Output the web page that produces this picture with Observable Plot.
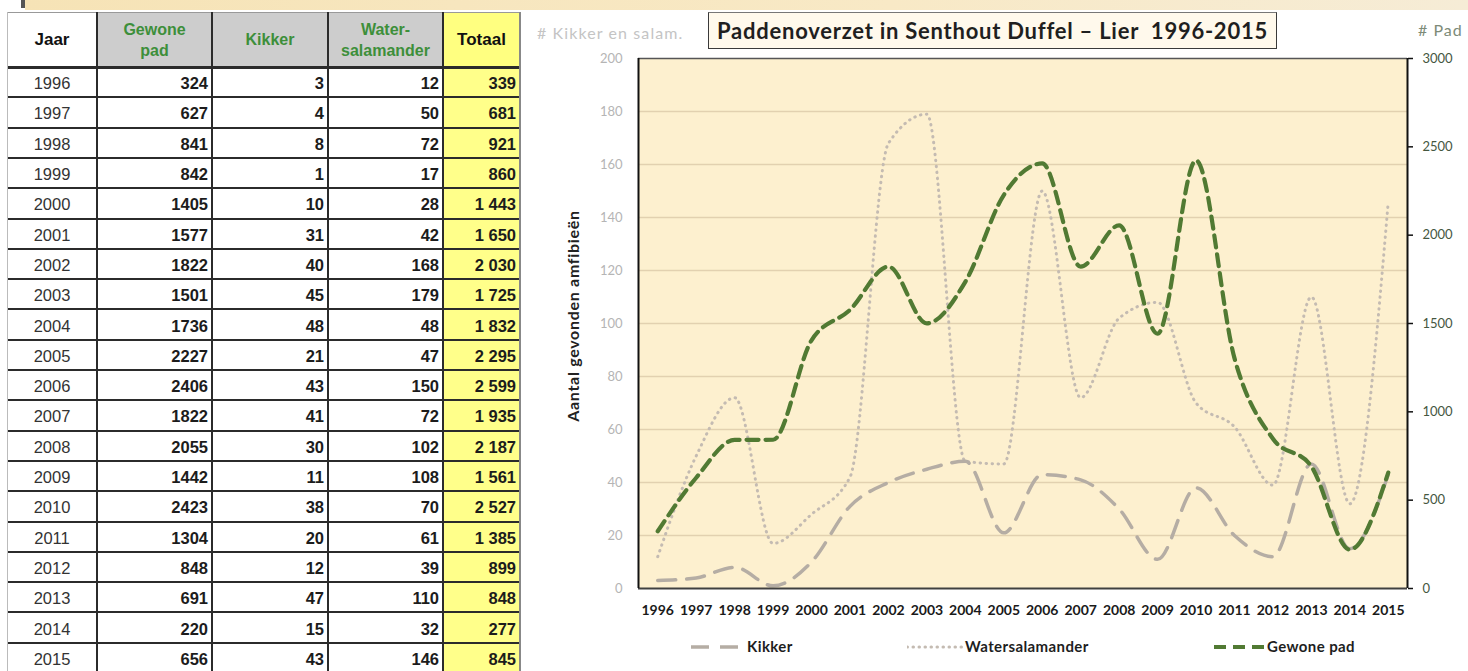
<!DOCTYPE html>
<html>
<head>
<meta charset="utf-8">
<script src="https://cdn.jsdelivr.net/npm/d3@7"></script>
<script src="https://cdn.jsdelivr.net/npm/@observablehq/plot@0.6"></script>
<style>
  html, body { margin: 0; padding: 0; background: #ffffff; }
  body { width: 1468px; height: 671px; position: relative; overflow: hidden; font-family: "Liberation Sans", Arial, sans-serif; }
  .abs { position: absolute; }
  .cell { position: absolute; box-sizing: border-box; display: flex; align-items: center; white-space: nowrap; }
  .hline { position: absolute; background: #2b2b2b; }
  .vline { position: absolute; background: #2b2b2b; }
  .lg { position: absolute; font-family: Lato, sans-serif; font-weight: bold; font-size: 15px; letter-spacing: 0.4px; color: #1e1e1e; }
</style>
</head>
<body>
<div class="abs" style="left:25px;top:0;width:1443px;height:10px;background:linear-gradient(to right,#f6e3b6,#f8e9c6 60%,#f6ecd6);"></div>
<div class="abs" style="left:21px;top:0;width:4px;height:8px;background:#555;"></div>
<div id="table"></div>
<div class="abs" style="left:537px;top:23px;font-family:Lato,sans-serif;font-size:16px;letter-spacing:1.1px;color:#c4c4c4;"># Kikker en salam.</div>
<div class="abs" style="left:1418px;top:20px;font-family:Lato,sans-serif;font-size:16px;letter-spacing:1px;color:#7d8b78;"># Pad</div>
<div class="abs" style="left:708px;top:12px;width:569px;height:37px;box-sizing:border-box;border:1.5px solid #3a3a3a;border-top-color:#777;background:#fff9ec;display:flex;align-items:center;justify-content:center;font-family:Lato,sans-serif;font-weight:bold;font-size:22px;letter-spacing:0.75px;color:#1f1f1f;white-space:pre;">Paddenoverzet in Senthout Duffel – Lier  1996-2015</div>
<div class="abs" style="left:572px;top:316px;transform:translate(-50%,-50%) rotate(-90deg);font-family:Lato,sans-serif;font-weight:bold;font-size:16px;letter-spacing:0.7px;color:#222;white-space:nowrap;">Aantal gevonden amfibieën</div>
<div id="chart" class="abs" style="left:530px;top:40px;"></div>
<div id="legend"></div>
<script>
const years = [1996,1997,1998,1999,2000,2001,2002,2003,2004,2005,2006,2007,2008,2009,2010,2011,2012,2013,2014,2015];
const gewonePad = [324,627,841,842,1405,1577,1822,1501,1736,2227,2406,1822,2055,1442,2423,1304,848,691,220,656];
const kikker = [3,4,8,1,10,31,40,45,48,21,43,41,30,11,38,20,12,47,15,43];
const watersalamander = [12,50,72,17,28,42,168,179,48,47,150,72,102,108,70,61,39,110,32,146];
const totaal = [339,681,921,860,1443,1650,2030,1725,1832,2295,2599,1935,2187,1561,2527,1385,899,848,277,845];
const leftTicks = [0,20,40,60,80,100,120,140,160,180,200];
const rightTicks = [0,500,1000,1500,2000,2500,3000];
const headers = ["Jaar","Gewone<br>pad","Kikker","Water-<br>salamander","Totaal"];
const seriesNames = ["Kikker","Watersalamander","Gewone pad"];

const rows = years.map((y, i) => ({year: y, pad: gewonePad[i], kikker: kikker[i], water: watersalamander[i], tot: totaal[i]}));

// ---------- table ----------
const fmtTot = n => n >= 1000 ? d3.format(",")(n).replace(",", " ") : String(n);
const cols = [{x:7,w:90},{x:97,w:115},{x:212,w:116},{x:328,w:115},{x:443,w:77}];
const tbl = document.getElementById("table");
const headTop = 12, headH = 55, rowH = 30.3;
const headBg = ["#ffffff","#cdcdcd","#cdcdcd","#cdcdcd","#ffff80"];
const headColor = ["#111","#3d8f3a","#3d8f3a","#3d8f3a","#111"];
let html = "";
headers.forEach((h, c) => {
  html += `<div class="cell" style="left:${cols[c].x}px;top:${headTop}px;width:${cols[c].w}px;height:${headH}px;background:${headBg[c]};justify-content:center;text-align:center;font-weight:bold;font-size:${c===0||c===4?17:16}px;line-height:21px;color:${headColor[c]};">${h}</div>`;
});
rows.forEach((r, i) => {
  const top = headTop + headH + i * rowH;
  const vals = [String(r.year), String(r.pad), String(r.kikker), String(r.water), fmtTot(r.tot)];
  vals.forEach((v, c) => {
    const isYear = c === 0;
    html += `<div class="cell" style="left:${cols[c].x}px;top:${top}px;width:${cols[c].w}px;height:${rowH}px;padding-top:3px;background:${c===4?"#ffff8a":"#ffffff"};justify-content:${isYear?"center":"flex-end"};padding-right:${isYear?0:4}px;font-size:16.5px;font-weight:${isYear?"normal":"bold"};color:${isYear?"#333":"#1c1c1c"};">${v}</div>`;
  });
});
html += `<div class="hline" style="left:7px;top:${headTop}px;width:513px;height:1px;background:#999;"></div>`;
for (let k = 0; k <= rows.length; k++) {
  const y = headTop + headH + k * rowH;
  html += `<div class="hline" style="left:7px;top:${y-1}px;width:513px;height:${k===0?2.5:2}px;"></div>`;
}
[97,212,328,443].forEach(x => {
  html += `<div class="vline" style="left:${x-1}px;top:${headTop}px;width:2px;height:${671-headTop}px;"></div>`;
});
html += `<div class="vline" style="left:7px;top:${headTop}px;width:1px;height:${671-headTop}px;background:#bbb;"></div>`;
html += `<div class="vline" style="left:519px;top:${headTop}px;width:1.5px;height:${671-headTop}px;background:#888;"></div>`;
tbl.innerHTML = html;

// ---------- chart ----------
const styles = {
  kikker: {stroke: "#b5ada4", strokeWidth: 3.5, strokeDasharray: "18,11"},
  water: {stroke: "#c4bbb2", strokeWidth: 3, strokeDasharray: "0.5,5.5", strokeLinecap: "round"},
  pad: {stroke: "#517a33", strokeWidth: 4.2, strokeDasharray: "12,7"}
};
const curve = "monotone-x";
const chart = Plot.plot({
  width: 938, height: 600,
  marginLeft: 108, marginRight: 61, marginTop: 18, marginBottom: 52,
  style: {fontFamily: "Lato, sans-serif", background: "transparent", overflow: "visible"},
  x: {domain: [1995.5, 2015.5]},
  y: {domain: [0, 200]},
  marks: [
    Plot.frame({fill: "#fdf0cf", stroke: null}),
    Plot.ruleY(leftTicks.filter(d => d > 0 && d < 200), {stroke: "#e2d1b0", strokeWidth: 1.3}),
    Plot.line(rows, {x: "year", y: "water", curve, ...styles.water}),
    Plot.line(rows, {x: "year", y: "kikker", curve, ...styles.kikker}),
    Plot.line(rows, {x: "year", y: d => d.pad / 15, curve, ...styles.pad}),
    Plot.ruleY([200], {stroke: "#555", strokeWidth: 1.5}),
    Plot.ruleY([0], {stroke: "#404040", strokeWidth: 2}),
    Plot.ruleX([1995.5], {stroke: "#111", strokeWidth: 2}),
    Plot.ruleX([2015.5], {stroke: "#111", strokeWidth: 2}),
    Plot.axisY({ticks: leftTicks, tickSize: 0, tickPadding: 16, fill: "#b5b5b5", fontSize: 13, label: null}),
    Plot.axisY({anchor: "right", ticks: rightTicks.map(d => d / 15), tickFormat: d => String(Math.round(d * 15)), tickSize: 5, tickPadding: 10, stroke: "#111", strokeWidth: 1.5, fill: "#45573f", fontSize: 13, label: null}),
    Plot.axisX({ticks: years, tickFormat: d => String(d), tickSize: 0, tickPadding: 17, fontSize: 14, fontWeight: "bold", fill: "#1a1a1a", label: null})
  ]
});
document.getElementById("chart").appendChild(chart);

// ---------- legend ----------
const legendItems = [
  {name: seriesNames[0], st: styles.kikker, x: 691, w: 54},
  {name: seriesNames[1], st: styles.water, x: 907, w: 56},
  {name: seriesNames[2], st: styles.pad, x: 1214, w: 51}
];
let lg = "";
legendItems.forEach(it => {
  lg += `<svg class="abs" style="left:${it.x}px;top:641px;" width="${it.w}" height="12"><line x1="0" y1="6" x2="${it.w}" y2="6" stroke="${it.st.stroke}" stroke-width="${it.st.strokeWidth}" stroke-dasharray="${it.st.strokeDasharray}" stroke-linecap="${it.st.strokeLinecap||"butt"}"/></svg>`;
  lg += `<div class="lg" style="left:${it.x + it.w + 2}px;top:637px;">${it.name}</div>`;
});
document.getElementById("legend").innerHTML = lg;
</script>
</body>
</html>
